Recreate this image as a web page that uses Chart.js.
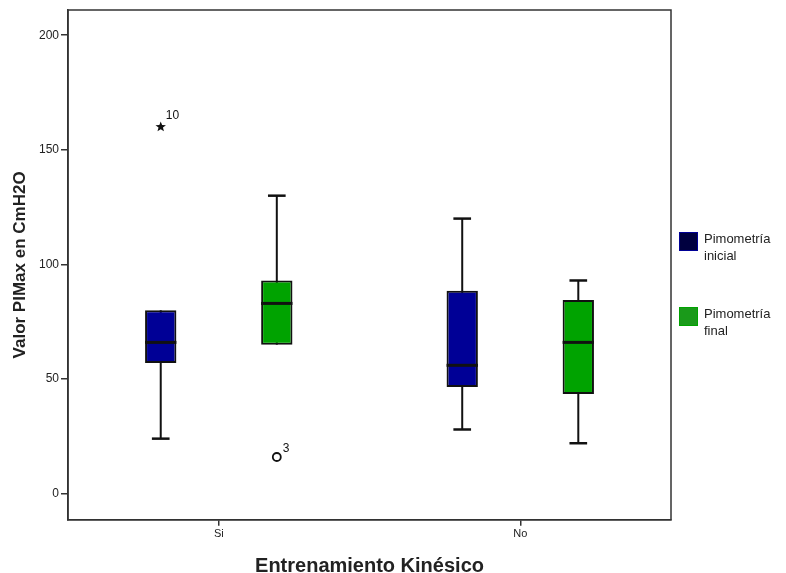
<!DOCTYPE html>
<html>
<head>
<meta charset="utf-8">
<script src="https://cdn.jsdelivr.net/npm/chart.js@4"></script>
<style>
  body { margin: 0; background: #fff; }
  #wrap { width: 786px; height: 573px; }
</style>
</head>
<body>
<div id="wrap"><canvas id="chart"></canvas></div>
<script>
// datos (boxplot SPSS)
const categories = ['Si', 'No'];
const seriesNames = [['Pimometría', 'inicial'], ['Pimometría', 'final']];
const seriesColors = ['#000096', '#00a300'];
const legendColors = ['#00003f', '#1a9a1a'];

const minInicial = [24, 28];
const q1Inicial = [57, 46.5];
const medInicial = [66, 56];
const q3Inicial = [80, 88.5];
const maxInicial = [80, 120];

const minFinal = [65, 22];
const q1Final = [65, 43.5];
const medFinal = [83, 66];
const q3Final = [93, 84.5];
const maxFinal = [130, 93];

// outliers: [serie, categoria, valor, etiqueta, tipo]
const outliers = [
  [0, 0, 160, '10', 'star'],
  [1, 0, 16, '3', 'circle']
];

const yTicks = [0, 50, 100, 150, 200];

const stats = [
  { min: minInicial, q1: q1Inicial, med: medInicial, q3: q3Inicial, max: maxInicial },
  { min: minFinal, q1: q1Final, med: medFinal, q3: q3Final, max: maxFinal }
];

function starPath(ctx, x, y, r) {
  ctx.beginPath();
  for (let i = 0; i < 10; i++) {
    const rr = i % 2 === 0 ? r : r * 0.42;
    const a = -Math.PI / 2 + i * Math.PI / 5;
    const px = x + rr * Math.cos(a), py = y + rr * Math.sin(a);
    if (i === 0) ctx.moveTo(px, py); else ctx.lineTo(px, py);
  }
  ctx.closePath();
}

const boxPlugin = {
  id: 'boxExtras',
  beforeDatasetsDraw(chart) {
    // bigotes debajo de las cajas
    const ctx = chart.ctx, y = chart.scales.y;
    ctx.save();
    ctx.strokeStyle = '#111';
    chart.data.datasets.forEach((ds, di) => {
      const s = stats[di];
      chart.getDatasetMeta(di).data.forEach((bar, i) => {
        const cap = bar.width / 2;
        const yMin = y.getPixelForValue(s.min[i]);
        const yMax = y.getPixelForValue(s.max[i]);
        ctx.lineWidth = 2;
        ctx.beginPath();
        ctx.moveTo(bar.x, yMin); ctx.lineTo(bar.x, yMax);
        ctx.stroke();
        ctx.lineWidth = 2.5;
        const caps = [];
        if (s.min[i] < s.q1[i]) caps.push(yMin);
        if (s.max[i] > s.q3[i]) caps.push(yMax);
        caps.forEach(py => {
          ctx.beginPath();
          ctx.moveTo(bar.x - cap / 2 - 1, py); ctx.lineTo(bar.x + cap / 2 + 1, py);
          ctx.stroke();
        });
      });
    });
    ctx.restore();
  },
  afterDatasetsDraw(chart) {
    const ctx = chart.ctx, y = chart.scales.y, area = chart.chartArea;
    ctx.save();
    // medianas
    ctx.strokeStyle = '#111';
    ctx.lineWidth = 3;
    chart.data.datasets.forEach((ds, di) => {
      chart.getDatasetMeta(di).data.forEach((bar, i) => {
        const py = y.getPixelForValue(stats[di].med[i]);
        ctx.beginPath();
        ctx.moveTo(bar.x - bar.width / 2, py); ctx.lineTo(bar.x + bar.width / 2, py);
        ctx.stroke();
      });
    });
    // atipicos
    ctx.font = '12px "Liberation Sans", Arial, sans-serif';
    ctx.fillStyle = '#111';
    outliers.forEach(([di, ci, v, lab, kind]) => {
      const bar = chart.getDatasetMeta(di).data[ci];
      const py = y.getPixelForValue(v);
      if (kind === 'star') {
        starPath(ctx, bar.x, py, 5.5);
        ctx.fill();
        ctx.fillText(lab, bar.x + 5, py - 8);
      } else {
        ctx.beginPath();
        ctx.lineWidth = 1.8;
        ctx.arc(bar.x, py, 4, 0, Math.PI * 2);
        ctx.stroke();
        ctx.fillText(lab, bar.x + 6, py - 5);
      }
    });
    // marco
    ctx.strokeStyle = '#333';
    ctx.lineWidth = 1.5;
    ctx.strokeRect(area.left, area.top, area.right - area.left, area.bottom - area.top);
    // leyenda
    ctx.font = '13px "Liberation Sans", Arial, sans-serif';
    const lx = area.right + 8;
    const ly = [232, 307];
    seriesNames.forEach((name, k) => {
      ctx.fillStyle = legendColors[k];
      ctx.fillRect(lx, ly[k], 19, 19);
      ctx.strokeStyle = seriesColors[k];
      ctx.lineWidth = 1;
      ctx.strokeRect(lx + 0.5, ly[k] + 0.5, 18, 18);
      ctx.fillStyle = '#222';
      ctx.textBaseline = 'middle';
      name.forEach((line, j) => ctx.fillText(line, lx + 25, ly[k] + 7 + j * 17));
    });
    ctx.restore();
  }
};

const ctx = document.getElementById('chart').getContext('2d');

const chart = new Chart(ctx, {
  type: 'bar',
  data: {
    labels: categories,
    datasets: [
      {
        label: seriesNames[0].join(' '),
        data: q1Inicial.map((v, i) => [v, q3Inicial[i]]),
        backgroundColor: seriesColors[0],
        borderColor: '#111',
        borderWidth: 2,
        borderSkipped: false
      },
      {
        label: seriesNames[1].join(' '),
        data: q1Final.map((v, i) => [v, q3Final[i]]),
        backgroundColor: seriesColors[1],
        borderColor: '#111',
        borderWidth: 2,
        borderSkipped: false
      }
    ]
  },
  options: {
    responsive: true,
    maintainAspectRatio: false,
    animation: false,
    categoryPercentage: 0.77,
    barPercentage: 0.27,
    layout: { padding: { top: 10, right: 115, left: 12, bottom: -3 } },
    plugins: {
      legend: { display: false },
      tooltip: { enabled: false }
    },
    scales: {
      x: {
        grid: { display: true, offset: false, drawOnChartArea: false, tickLength: 6, color: '#333', lineWidth: 1.5 },
        border: { color: '#333', width: 1.5 },
        ticks: { color: '#222', font: { size: 11, family: '"Liberation Sans", Arial' }, padding: 2 },
        title: {
          display: true,
          text: 'Entrenamiento Kinésico',
          color: '#222',
          font: { size: 20, weight: 'bold', lineHeight: 1, family: '"Liberation Sans", Arial' },
          padding: { top: 13, bottom: 0 }
        }
      },
      y: {
        min: -11.4,
        max: 211,
        afterBuildTicks: (s) => { s.ticks = yTicks.map(v => ({ value: v })); },
        grid: { display: true, drawOnChartArea: false, tickLength: 7, color: '#333', lineWidth: 1.5 },
        border: { color: '#333', width: 1.5 },
        ticks: { color: '#222', font: { size: 12, family: '"Liberation Sans", Arial' }, padding: 2 },
        title: {
          display: true,
          text: 'Valor PIMax en CmH2O',
          color: '#222',
          font: { size: 17, weight: 'bold', lineHeight: 1, family: '"Liberation Sans", Arial' },
          padding: { top: 0, bottom: 8 }
        }
      }
    }
  },
  plugins: [boxPlugin]
});
</script>
</body>
</html>
